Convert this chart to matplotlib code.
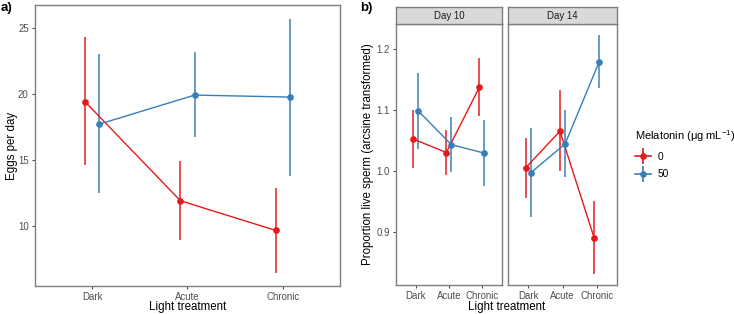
import matplotlib
matplotlib.use("Agg")
import matplotlib.pyplot as plt
from matplotlib.lines import Line2D
import numpy as np

plt.rcParams['font.family'] = ['Liberation Sans', 'DejaVu Sans']
plt.rcParams['mathtext.default'] = 'regular'

categories = ["Dark", "Acute", "Chronic"]
groups = ["0", "50"]
colors = {"0": "#E41A1C", "50": "#377EB8"}

# Panel a: Eggs per day
eggs_mean = {"0": [19.4, 11.9, 9.65], "50": [17.7, 19.9, 19.75]}
eggs_lo = {"0": [14.6, 8.9, 6.4], "50": [12.5, 16.7, 13.8]}
eggs_hi = {"0": [24.3, 14.9, 12.9], "50": [23.0, 23.2, 25.7]}

# Panel b: Proportion live sperm
days = ["Day 10", "Day 14"]
sperm_mean = {
    "Day 10": {"0": [1.053, 1.031, 1.138], "50": [1.099, 1.044, 1.030]},
    "Day 14": {"0": [1.006, 1.066, 0.891], "50": [0.998, 1.045, 1.180]},
}
sperm_lo = {
    "Day 10": {"0": [1.005, 0.994, 1.091], "50": [1.037, 0.999, 0.976]},
    "Day 14": {"0": [0.957, 1.000, 0.832], "50": [0.925, 0.991, 1.136]},
}
sperm_hi = {
    "Day 10": {"0": [1.101, 1.068, 1.186], "50": [1.162, 1.089, 1.084]},
    "Day 14": {"0": [1.054, 1.133, 0.951], "50": [1.071, 1.100, 1.224]},
}

W, H = 734, 314
fig = plt.figure(figsize=(W / 100, H / 100), dpi=100)

def ax_at(l, r, t, b):
    return fig.add_axes([l / W, 1 - b / H, (r - l) / W, (b - t) / H])

border = "#7F7F7F"
tick_fs = 6.9
title_fs = 8.3
dodge = {"0": -0.075, "50": 0.075}

def style(ax):
    for s in ax.spines.values():
        s.set_color(border)
        s.set_linewidth(1.0)
    ax.tick_params(axis="both", colors="#4D4D4D", labelcolor="#4D4D4D",
                   length=2.5, width=0.8, labelsize=tick_fs, pad=2)
    ax.set_xlim(0.4, 3.6)
    ax.set_xticks([1, 2, 3])
    ax.set_xticklabels(categories)

def draw(ax, mean, lo, hi):
    x = np.arange(1, 4)
    for g in groups:
        xx = x + dodge[g]
        m = np.array(mean[g]); l = np.array(lo[g]); h = np.array(hi[g])
        ax.vlines(xx, l, h, color=colors[g], lw=1.2, alpha=0.9, zorder=2)
        ax.plot(xx, m, color=colors[g], lw=1.0, zorder=3)
        ax.plot(xx, m, "o", color=colors[g], ms=3.8, zorder=4)

# Panel a
axa = ax_at(35, 340, 5.3, 286)
style(axa)
draw(axa, eggs_mean, eggs_lo, eggs_hi)
axa.set_ylim(5.44, 26.7)
axa.set_yticks([10, 15, 20, 25])
axa.set_ylabel("Eggs per day", fontsize=title_fs)
axa.yaxis.set_label_coords((18 - 35) / 305, 0.5)
fig.text(187.5 / W, 1 - 307 / H, "Light treatment", fontsize=title_fs, ha="center", va="center")
fig.text(1 / W, 1 - 8 / H, "a)", fontsize=9.5, fontweight="bold", va="center", ha="left")

# Panel b
panels = [(396, 501.7), (507.7, 617.3)]
axes_b = []
for (l, r), d in zip(panels, days):
    ax = ax_at(l, r, 24, 285)
    style(ax)
    draw(ax, sperm_mean[d], sperm_lo[d], sperm_hi[d])
    ax.set_ylim(0.814, 1.2415)
    ax.set_yticks([0.9, 1.0, 1.1, 1.2])
    # strip
    sax = ax_at(l, r, 7.3, 24)
    sax.set_facecolor("#D9D9D9")
    sax.set_xticks([]); sax.set_yticks([])
    for s in sax.spines.values():
        s.set_color(border); s.set_linewidth(1.0)
    sax.text(0.5, 0.5, d, transform=sax.transAxes, ha="center", va="center",
             fontsize=tick_fs, color="#1A1A1A")
    axes_b.append(ax)

axes_b[1].tick_params(axis="y", left=False, labelleft=False)
axes_b[0].set_ylabel("Proportion live sperm (arcsine transformed)", fontsize=title_fs)
axes_b[0].yaxis.set_label_coords((374 - 396) / 105.7, 0.5)
fig.text(507 / W, 1 - 307 / H, "Light treatment", fontsize=title_fs, ha="center", va="center")
fig.text(360 / W, 1 - 8 / H, "b)", fontsize=9.5, fontweight="bold", va="center", ha="left")

# Legend (pointrange-like keys)
handles = []
for g in groups:
    h1 = Line2D([0], [0], color=colors[g], lw=1.2, marker="o", ms=3.8)
    h2 = Line2D([0], [0], color=colors[g], ls="none", marker="|", ms=11, mew=1.2)
    handles.append((h1, h2))
leg = fig.legend(handles, groups, loc="upper left",
                 bbox_to_anchor=(628 / W, 1 - 121 / H),
                 title="Melatonin (μg mL$^{-1}$)", frameon=False,
                 fontsize=tick_fs + 0.4, title_fontsize=8.0,
                 handlelength=1.6, handletextpad=0.6, labelspacing=0.75,
                 borderpad=0.2)
leg._legend_box.align = "left"

fig.savefig("out.png", dpi=100)
